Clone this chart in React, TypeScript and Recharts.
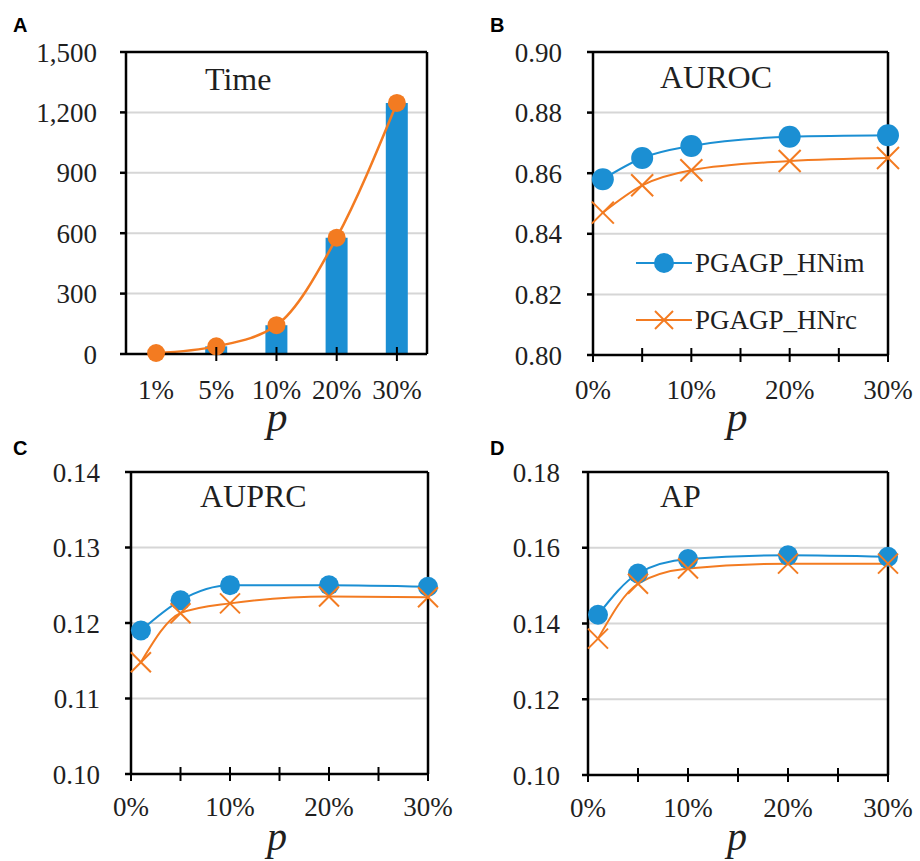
import React from 'react'
import { ComposedChart, LineChart, Bar, Line, XAxis, YAxis, CartesianGrid, Legend } from 'recharts'

// Panel A: running time per sampling ratio
const timeCategories = ['1%', '5%', '10%', '20%', '30%']
const timeValues = [5, 38, 143, 578, 1247]
const timeTicks = [0, 300, 600, 900, 1200, 1500]

// Panels B–D: metrics against p (in %)
const pValues = [1, 5, 10, 20, 30]
const pTicks = [0, 5, 10, 15, 20, 25, 30]

const aurocIm = [0.858, 0.865, 0.869, 0.872, 0.8725]
const aurocRc = [0.847, 0.856, 0.861, 0.864, 0.865]
const aurocTicks = [0.8, 0.82, 0.84, 0.86, 0.88, 0.9]

const auprcIm = [0.119, 0.123, 0.125, 0.125, 0.1248]
const auprcRc = [0.1148, 0.1213, 0.1226, 0.1235, 0.1234]
const auprcTicks = [0.1, 0.11, 0.12, 0.13, 0.14]

const apIm = [0.1423, 0.1532, 0.157, 0.158, 0.1576]
const apRc = [0.136, 0.1505, 0.1545, 0.1558, 0.1558]
const apTicks = [0.1, 0.12, 0.14, 0.16, 0.18]

const seriesNames = ['PGAGP_HNim', 'PGAGP_HNrc']

const BLUE = '#1b8fd3'
const ORANGE = '#f37b21'
const GRID = '#d6d6d6'
const INK = '#1f1f1f'
const SERIF = '"Liberation Serif", "Times New Roman", Times, serif'
const SANS = '"Liberation Sans", Arial, Helvetica, sans-serif'

const W = 460
const H = 430

const timeData = timeCategories.map((cat, i) => ({ cat, time: timeValues[i] }))
const pairData = (im: number[], rc: number[]) => pValues.map((p, i) => ({ p, im: im[i], rc: rc[i] }))

const axisStroke = { stroke: '#000', strokeWidth: 2.5 }
const yTickStyle = { fontSize: 27, fontFamily: SERIF, fill: INK }

// x ticks cross the axis line; label drawn below at a fixed offset
function makeXTick(labelOffset: number, opts: { skipFirstLine?: boolean; labelEvery?: number }) {
  return (props: any) => {
    const { x, y, payload, index } = props
    const v = payload.value
    const showLine = !(opts.skipFirstLine && index === 0)
    const showLabel = opts.labelEvery ? v % opts.labelEvery === 0 : true
    const label = typeof v === 'number' ? `${v}%` : v
    return (
      <g>
        {showLine && <line x1={x} x2={x} y1={y - 7} y2={y + 7} stroke="#000" strokeWidth={2} />}
        {showLabel && (
          <text x={x} y={y + labelOffset} dy="0.71em" textAnchor="middle" fontSize={27} fontFamily={SERIF} fill={INK}>
            {label}
          </text>
        )}
      </g>
    )
  }
}

function makeCross(s: number) {
  return (props: any) => {
    const { cx, cy } = props
    if (cx == null || cy == null) return <g />
    return (
      <g>
        <line x1={cx - s} y1={cy - s} x2={cx + s} y2={cy + s} stroke={ORANGE} strokeWidth={2} />
        <line x1={cx - s} y1={cy + s} x2={cx + s} y2={cy - s} stroke={ORANGE} strokeWidth={2} />
      </g>
    )
  }
}

function PanelText({ letter, letterX, letterY, title, titleX, titleY, pY, pSize }: any) {
  return (
    <svg width={W} height={H} style={{ position: 'absolute', left: 0, top: 0, overflow: 'visible', pointerEvents: 'none' }}>
      <text x={letterX} y={letterY} fontSize={20} fontWeight="bold" fontFamily={SANS} fill="#000">{letter}</text>
      <text x={titleX} y={titleY} fontSize={32} fontFamily={SERIF} fill={INK}>{title}</text>
      <text x={277} y={pY} fontSize={pSize} fontStyle="italic" fontFamily={SERIF} fill={INK} textAnchor="middle">p</text>
    </svg>
  )
}

function LegendB({ payload }: any) {
  const items = payload || []
  return (
    <svg width={270} height={110}>
      {items.map((item: any, i: number) => {
        const cy = 28 + i * 57
        return (
          <g key={item.value}>
            <line x1={6} x2={62} y1={cy} y2={cy} stroke={item.color} strokeWidth={2} />
            {i === 0 ? (
              <circle cx={34} cy={cy} r={10} fill={BLUE} />
            ) : (
              <g>
                <line x1={25} y1={cy - 9} x2={43} y2={cy + 9} stroke={ORANGE} strokeWidth={2} />
                <line x1={25} y1={cy + 9} x2={43} y2={cy - 9} stroke={ORANGE} strokeWidth={2} />
              </g>
            )}
            <text x={65} y={cy} dy="0.35em" fontSize={27} fontFamily={SERIF} fill={INK}>{item.value}</text>
          </g>
        )
      })}
    </svg>
  )
}

function TimePanel() {
  return (
    <div style={{ position: 'absolute', left: 0, top: 0, width: W, height: H }}>
      <ComposedChart width={W} height={H} data={timeData} margin={{ top: 51, right: 32, bottom: 6, left: 0 }}>
        <CartesianGrid vertical={false} stroke={GRID} strokeWidth={2} />
        <XAxis dataKey="cat" height={70} interval={0} tickSize={0} tickMargin={0} tickLine={false}
          axisLine={axisStroke} tick={makeXTick(26, { skipFirstLine: true })} />
        <XAxis xAxisId="top" orientation="top" dataKey="cat" height={1} tick={false} tickLine={false} axisLine={axisStroke} />
        <YAxis domain={[0, 1500]} ticks={timeTicks} width={126} tickSize={6} tickMargin={23}
          axisLine={axisStroke} tickLine={axisStroke} tick={yTickStyle}
          tickFormatter={(v: number) => v.toLocaleString('en-US')} />
        <YAxis yAxisId="r" orientation="right" width={1} domain={[0, 1]} tick={false} tickLine={false} axisLine={axisStroke} />
        <Bar dataKey="time" fill={BLUE} barSize={22} isAnimationActive={false} />
        <Line dataKey="time" type="monotone" stroke={ORANGE} strokeWidth={2.5}
          dot={{ r: 9, fill: ORANGE, stroke: ORANGE, strokeWidth: 0 }} activeDot={false} isAnimationActive={false} />
      </ComposedChart>
      <PanelText letter="A" letterX={13} letterY={32} title="Time" titleX={205} titleY={90} pY={431} pSize={42} />
    </div>
  )
}

function MetricPanel({ left, top, letter, letterX, letterY, title, titleY, pY, pSize, im, rc, ticks, plotLeft, plotTop, plotBottom, labelOffset, tickMargin, dotR, crossS, showLegend }: any) {
  const data = pairData(im, rc)
  return (
    <div style={{ position: 'absolute', left, top, width: W, height: H }}>
      <LineChart width={W} height={H} data={data}
        margin={{ top: plotTop - 1, right: 31, bottom: H - plotBottom - 70, left: 0 }}>
        <CartesianGrid vertical={false} stroke={GRID} strokeWidth={2} />
        <XAxis dataKey="p" type="number" domain={[0, 30]} ticks={pTicks} interval={0} height={70}
          tickSize={0} tickMargin={0} tickLine={false} axisLine={axisStroke}
          tick={makeXTick(labelOffset, { labelEvery: 10 })} />
        <XAxis xAxisId="top" orientation="top" type="number" domain={[0, 30]} height={1}
          tick={false} tickLine={false} axisLine={axisStroke} />
        <YAxis domain={[ticks[0], ticks[ticks.length - 1]]} ticks={ticks} width={plotLeft} tickSize={6} tickMargin={tickMargin}
          axisLine={axisStroke} tickLine={axisStroke} tick={yTickStyle}
          tickFormatter={(v: number) => v.toFixed(2)} />
        <YAxis yAxisId="r" orientation="right" width={1} domain={[0, 1]} tick={false} tickLine={false} axisLine={axisStroke} />
        <Line name={seriesNames[0]} dataKey="im" type="monotone" stroke={BLUE} strokeWidth={2}
          dot={{ r: dotR, fill: BLUE, stroke: BLUE, strokeWidth: 0 }} activeDot={false} isAnimationActive={false} />
        <Line name={seriesNames[1]} dataKey="rc" type="monotone" stroke={ORANGE} strokeWidth={2}
          dot={makeCross(crossS)} activeDot={false} isAnimationActive={false} />
        {showLegend && (
          <Legend layout="vertical" align="center" verticalAlign="middle" content={<LegendB />}
            wrapperStyle={{ left: 170, top: 235, width: 270, height: 110 }} />
        )}
      </LineChart>
      <PanelText letter={letter} letterX={letterX} letterY={letterY} title={title} titleX={200} titleY={titleY} pY={pY} pSize={pSize} />
    </div>
  )
}

export default function App() {
  return (
    <div style={{ position: 'absolute', left: 0, top: 0, width: 920, height: 861, background: '#fff' }}>
      <TimePanel />
      <MetricPanel left={460} top={0} letter="B" letterX={30} letterY={32} title="AUROC" titleY={88} pY={431} pSize={42}
        im={aurocIm} rc={aurocRc} ticks={aurocTicks} plotLeft={133} plotTop={52} plotBottom={355}
        labelOffset={25} tickMargin={25} dotR={11} crossS={11} showLegend />
      <MetricPanel left={0} top={430} letter="C" letterX={13} letterY={25} title="AUPRC" titleY={77} pY={420} pSize={40}
        im={auprcIm} rc={auprcRc} ticks={auprcTicks} plotLeft={131} plotTop={42} plotBottom={344}
        labelOffset={23} tickMargin={25} dotR={10} crossS={10} />
      <MetricPanel left={460} top={430} letter="D" letterX={30} letterY={25} title="AP" titleY={77} pY={420} pSize={40}
        im={apIm} rc={apRc} ticks={apTicks} plotLeft={128} plotTop={42} plotBottom={345}
        labelOffset={23} tickMargin={22} dotR={10} crossS={10} />
    </div>
  )
}
